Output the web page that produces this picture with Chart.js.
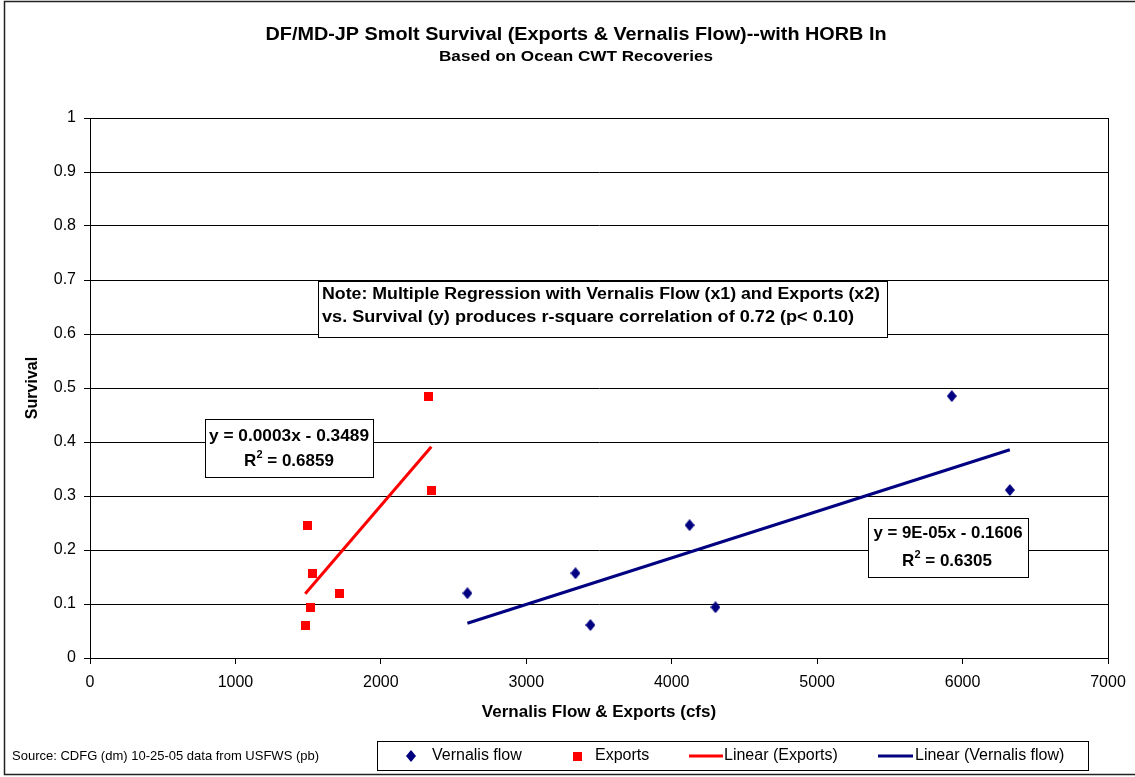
<!DOCTYPE html>
<html lang="en">
<head>
  <meta charset="UTF-8">
  <title>DF/MD-JP Smolt Survival</title>
  <script src="https://cdn.jsdelivr.net/npm/chart.js"></script>
  <style>
    html, body { margin: 0; padding: 0; background: #fff; }
  </style>
</head>
<body>
  <canvas id="smoltChart" width="1135" height="777"></canvas>

  <script>
    // values (one survival value per release group)
    const survival     = [0.120, 0.157, 0.061, 0.246, 0.094, 0.485, 0.311];
    const vernalisFlow = [2595, 3338, 3441, 4123, 4301, 5926, 6325];
    const exportsFlow  = [1714, 1528, 1480, 1493, 1514, 2326, 2347];

    const xTicks = [0, 1000, 2000, 3000, 4000, 5000, 6000, 7000];
    const yTicks = [0, 0.1, 0.2, 0.3, 0.4, 0.5, 0.6, 0.7, 0.8, 0.9, 1];

    const seriesNames = ['Vernalis flow', 'Exports', 'Linear (Exports)', 'Linear (Vernalis flow)'];

    // text shown on the chart
    const titleText = 'DF/MD-JP Smolt Survival (Exports & Vernalis Flow)--with HORB In';
    const subtitleText = 'Based on Ocean CWT Recoveries';
    const noteLines = [
      'Note: Multiple Regression with Vernalis Flow (x1) and Exports (x2)',
      'vs. Survival (y) produces r-square correlation of 0.72 (p< 0.10)'
    ];
    const exportsEq = ['y = 0.0003x - 0.3489', '0.6859'];
    const vernalisEq = ['y = 9E-05x - 0.1606', '0.6305'];
    const sourceText = 'Source: CDFG (dm) 10-25-05 data from USFWS (pb)';

    const NAVY = '#000080';
    const RED = '#ff0000';
    const FONT = '"Liberation Sans", Arial, sans-serif';

    function toPoints(xs, ys) {
      return xs.map((x, i) => ({ x: x, y: ys[i] }));
    }

    // least squares line over the range of the data, like Excel's linear trendline
    function trendPoints(xs, ys) {
      const n = xs.length;
      const mx = xs.reduce((a, b) => a + b, 0) / n;
      const my = ys.reduce((a, b) => a + b, 0) / n;
      let sxy = 0, sxx = 0;
      for (let i = 0; i < n; i++) {
        sxy += (xs[i] - mx) * (ys[i] - my);
        sxx += (xs[i] - mx) * (xs[i] - mx);
      }
      const m = sxy / sxx, b = my - m * mx;
      const lo = Math.min(...xs), hi = Math.max(...xs);
      return [{ x: lo, y: m * lo + b }, { x: hi, y: m * hi + b }];
    }

    function diamond(w, h, color) {
      const c = document.createElement('canvas');
      c.width = w; c.height = h;
      const g = c.getContext('2d');
      g.fillStyle = color;
      g.beginPath();
      g.moveTo(w / 2, 0); g.lineTo(w, h / 2); g.lineTo(w / 2, h); g.lineTo(0, h / 2);
      g.closePath();
      g.fill();
      return c;
    }
    function square(s, color) {
      const c = document.createElement('canvas');
      c.width = s; c.height = s;
      const g = c.getContext('2d');
      g.fillStyle = color;
      g.fillRect(0, 0, s, s);
      return c;
    }
    const diamondMark = diamond(10, 12, NAVY);
    const squareMark = square(9, RED);

    // text; if width is given the string is stretched or squeezed to it,
    // if maxW is given it is only squeezed when too wide
    function drawText(ctx, str, x, y, font, align, opts) {
      opts = opts || {};
      ctx.save();
      ctx.font = font;
      ctx.textAlign = align || 'center';
      ctx.textBaseline = 'middle';
      ctx.fillStyle = '#000';
      const w = ctx.measureText(str).width;
      ctx.translate(x, y);
      if (opts.width) ctx.scale(opts.width / w, 1);
      else if (opts.maxW && w > opts.maxW) ctx.scale(opts.maxW / w, 1);
      ctx.fillText(str, 0, 0);
      ctx.restore();
    }

    // "R² = value", centred on cx
    function drawR2(ctx, value, cx, y, size, squeeze) {
      ctx.save();
      const big = 'bold ' + size + 'px ' + FONT;
      const small = 'bold ' + Math.round(size * 0.62) + 'px ' + FONT;
      const rest = ' = ' + value;
      ctx.font = big;
      const wR = ctx.measureText('R').width;
      const wRest = ctx.measureText(rest).width;
      ctx.font = small;
      const w2 = ctx.measureText('2').width;
      const total = wR + w2 + wRest;
      ctx.translate(cx, y);
      ctx.scale(squeeze || 1, 1);
      let x = -total / 2;
      ctx.fillStyle = '#000';
      ctx.textAlign = 'left';
      ctx.textBaseline = 'middle';
      ctx.font = big;
      ctx.fillText('R', x, 0);
      x += wR;
      ctx.font = small;
      ctx.fillText('2', x, -6);
      x += w2;
      ctx.font = big;
      ctx.fillText(rest, x, 0);
      ctx.restore();
    }

    function box(ctx, x1, y1, x2, y2) {
      ctx.save();
      ctx.fillStyle = '#fff';
      ctx.fillRect(x1, y1, x2 - x1, y2 - y1);
      ctx.strokeStyle = '#000';
      ctx.lineWidth = 1;
      ctx.strokeRect(x1 + 0.5, y1 + 0.5, x2 - x1, y2 - y1);
      ctx.restore();
    }

    const decorations = {
      id: 'decorations',
      beforeDraw(chart) {
        const ctx = chart.ctx;
        ctx.save();
        ctx.fillStyle = '#fff';
        ctx.fillRect(0, 0, chart.width, chart.height);
        ctx.restore();
      },
      afterDraw(chart) {
        const ctx = chart.ctx;
        const a = chart.chartArea;

        // plot frame
        ctx.save();
        ctx.strokeStyle = '#000';
        ctx.lineWidth = 1;
        ctx.strokeRect(a.left + 0.5, a.top + 0.5, a.right - a.left, a.bottom - a.top);
        // outer chart frame (right side runs off the page)
        ctx.lineWidth = 1.5;
        ctx.strokeStyle = '#222';
        ctx.strokeRect(4.5, 1.5, chart.width + 10, 773);
        ctx.restore();

        // titles
        drawText(ctx, titleText, 576, 35, 'bold 18px ' + FONT, 'center', { width: 621 });
        drawText(ctx, subtitleText, 576, 57, 'bold 15px ' + FONT, 'center', { width: 274 });

        // note box
        box(ctx, 318, 281, 887, 337);
        drawText(ctx, noteLines[0], 322, 295, 'bold 16px ' + FONT, 'left', { width: 558 });
        drawText(ctx, noteLines[1], 322, 318, 'bold 16px ' + FONT, 'left', { width: 532 });

        // exports trendline label
        box(ctx, 205, 419, 373, 477);
        drawText(ctx, exportsEq[0], 289, 436, 'bold 17px ' + FONT, 'center', { width: 160 });
        drawR2(ctx, exportsEq[1], 289, 461, 17);

        // vernalis trendline label
        box(ctx, 868, 518, 1028, 577);
        drawText(ctx, vernalisEq[0], 948, 533, 'bold 17px ' + FONT, 'center', { width: 149 });
        drawR2(ctx, vernalisEq[1], 947, 561, 17, 1);

        // legend
        box(ctx, 377, 741, 1088, 770);
        const ly = 756;
        const lf = '16px ' + FONT;
        ctx.drawImage(diamondMark, 411 - 5, ly - 6);
        drawText(ctx, seriesNames[0], 432, ly, lf, 'left');
        ctx.drawImage(squareMark, 577 - 4.5, ly - 4.5);
        drawText(ctx, seriesNames[1], 595, ly, lf, 'left');
        ctx.save();
        ctx.lineWidth = 3;
        ctx.strokeStyle = RED;
        ctx.beginPath(); ctx.moveTo(689, ly); ctx.lineTo(723, ly); ctx.stroke();
        ctx.strokeStyle = NAVY;
        ctx.beginPath(); ctx.moveTo(878, ly); ctx.lineTo(913, ly); ctx.stroke();
        ctx.restore();
        drawText(ctx, seriesNames[2], 724, ly, lf, 'left');
        drawText(ctx, seriesNames[3], 915, ly, lf, 'left');

        // source note
        drawText(ctx, sourceText, 12, 756, '13px ' + FONT, 'left');
      }
    };

    Chart.defaults.font.family = FONT;
    Chart.defaults.color = '#000';

    const ctx = document.getElementById('smoltChart').getContext('2d');
    const chart = new Chart(ctx, {
      type: 'scatter',
      data: {
        datasets: [
          {
            label: seriesNames[0],
            data: toPoints(vernalisFlow, survival),
            pointStyle: diamondMark,
            backgroundColor: NAVY,
            borderColor: NAVY
          },
          {
            label: seriesNames[1],
            data: toPoints(exportsFlow, survival),
            pointStyle: squareMark,
            backgroundColor: RED,
            borderColor: RED
          },
          {
            label: seriesNames[2],
            data: trendPoints(exportsFlow, survival),
            showLine: true,
            borderColor: RED,
            borderWidth: 3,
            pointRadius: 0
          },
          {
            label: seriesNames[3],
            data: trendPoints(vernalisFlow, survival),
            showLine: true,
            borderColor: NAVY,
            borderWidth: 3,
            pointRadius: 0
          }
        ]
      },
      options: {
        responsive: false,
        animation: false,
        layout: { padding: { left: 0, top: 118, right: 27, bottom: 49 } },
        plugins: {
          legend: { display: false },
          tooltip: { enabled: false }
        },
        scales: {
          x: {
            type: 'linear',
            min: 0,
            max: 7000,
            afterBuildTicks: (s) => { s.ticks = xTicks.map(v => ({ value: v })); },
            afterFit: (s) => { s.height = 70; },
            ticks: {
              callback: (v) => String(v),
              font: { size: 16 },
              padding: 9,
              maxRotation: 0
            },
            grid: { drawOnChartArea: false, drawTicks: true, tickLength: 6, color: '#000' },
            border: { display: true, color: '#000', width: 1 },
            title: {
              display: true,
              text: 'Vernalis Flow & Exports (cfs)',
              font: { size: 17, weight: 'bold' },
              padding: { top: 0, bottom: 5 }
            }
          },
          y: {
            type: 'linear',
            min: 0,
            max: 1,
            afterBuildTicks: (s) => { s.ticks = yTicks.map(v => ({ value: v })); },
            afterFit: (s) => { s.width = 90; },
            ticks: {
              callback: (v) => String(v),
              font: { size: 16 },
              padding: 8
            },
            grid: { drawOnChartArea: true, drawTicks: true, tickLength: 6, color: '#000' },
            border: { display: true, color: '#000', width: 1 },
            title: {
              display: true,
              text: 'Survival',
              font: { size: 16, weight: 'bold' },
              padding: { top: 23, bottom: 0 }
            }
          }
        }
      },
      plugins: [decorations]
    });
  </script>
</body>
</html>
